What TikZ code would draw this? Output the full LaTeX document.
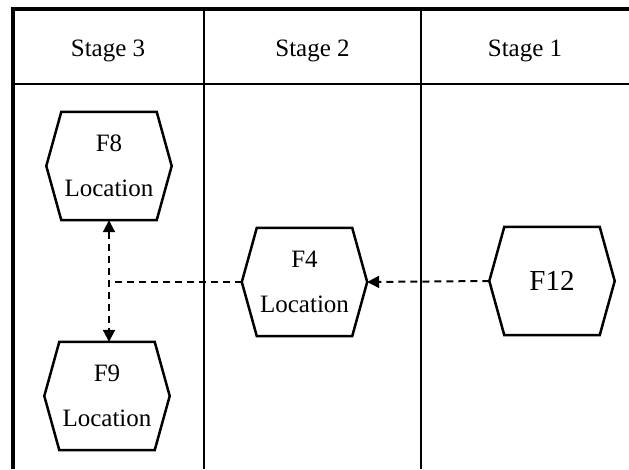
\documentclass[tikz,border=0pt]{standalone}
\usepackage{fontspec}
\setmainfont{Liberation Serif}
\usetikzlibrary{arrows.meta,calc}
\newcommand\hexagonof[1]{\draw[hexline] ($(#1.north west)+(15,0)$) -- ($(#1.north east)+(-15,0)$) -- (#1.east) -- ($(#1.south east)+(-15,0)$) -- ($(#1.south west)+(15,0)$) -- (#1.west) -- cycle;}
\begin{document}
\begin{tikzpicture}[x=1pt,y=-1pt,
  hexbox/.style={minimum width=125pt,minimum height=108pt,inner sep=0pt,align=center,font=\fontsize{25}{45}\selectfont},
  hexline/.style={line width=2.5pt,line join=miter},
  lane/.style={line width=2pt},
  border/.style={line width=4pt},
  conn/.style={line width=2pt,dash pattern=on 7pt off 5pt},
  tipend/.style={-{Triangle[length=12pt,width=12pt]}},
  tipboth/.style={{Triangle[length=12pt,width=12pt]}-{Triangle[length=12pt,width=12pt]}},
  head/.style={font=\fontsize{25}{30}\selectfont,anchor=base,inner sep=0pt}]
\useasboundingbox (0,0) rectangle (629,469);
\fill[white] (0,0) rectangle (629,469);
% lanes
\coordinate (tl) at (12.5,9);
\coordinate (tr) at (629,9);
\coordinate (bl) at (12.5,469);
\coordinate (hl) at (12.5,84);
\coordinate (hr) at (629,84);
\coordinate (d1t) at (204,9);
\coordinate (d1b) at (204,469);
\coordinate (d2t) at (421,9);
\coordinate (d2b) at (421,469);
\draw[lane] (hl) -- (hr);
\draw[lane] (d1t) -- (d1b);
\draw[lane] (d2t) -- (d2b);
\draw[border] ($(tl)+(-2,0)$) -- (tr);
\draw[border] ($(tl)+(0,-2)$) -- (bl);
% headers
\node[head] (h3) at (108,56) {Stage 3};
\node[head] (h2) at (312.5,56) {Stage 2};
\node[head] (h1) at (525,56) {Stage 1};
% hexagons
\node[hexbox] (F8) at (109,166) {F8\\Location};
\node[hexbox] (F9) at (107,396) {F9\\Location};
\node[hexbox] (F4) at (304.5,282) {F4\\Location};
\node[hexbox,font=\fontsize{29}{35}\selectfont] (F12) at (552,281) {F12};
\hexagonof{F8}
\hexagonof{F9}
\hexagonof{F4}
\hexagonof{F12}
% connectors
\coordinate (j) at (F8.south |- F4.west);
\draw[conn,tipboth] (F8.south) -- (F8.south |- F9.north);
\draw[conn] (F4.west) -- (j);
\draw[conn,tipend] (F12.west) -- (F4.east);
\end{tikzpicture}
\end{document}
